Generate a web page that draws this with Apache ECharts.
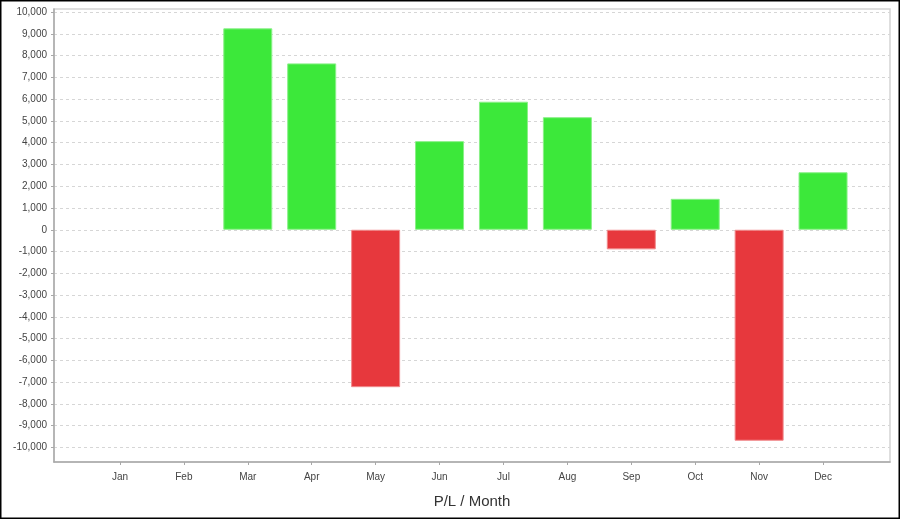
<!DOCTYPE html>
<html>
<head>
<meta charset="utf-8">
<script src="https://cdn.jsdelivr.net/npm/echarts@6/dist/echarts.min.js"></script>
<style>
html,body{margin:0;padding:0;background:#fff;}
#c{width:900px;height:519px;}
</style>
</head>
<body>
<div id="c"></div>
<script>
var months = ['Jan','Feb','Mar','Apr','May','Jun','Jul','Aug','Sep','Oct','Nov','Dec'];
var profitLoss = [null, null, 9250, 7640, -7230, 4070, 5880, 5170, -900, 1420, -9690, 2640];
var yMin = -10000, yMax = 10000, yStep = 1000;
var axisTitle = 'P/L / Month';

var GREEN = '#3ce83a', GREEN_EDGE = '#8af088';
var RED = '#e7383d', RED_EDGE = '#f08a8c';
var font = 'Arial, "Liberation Sans", sans-serif';

var chart = echarts.init(document.getElementById('c'), null, {renderer:'canvas'});
chart.setOption({
  backgroundColor:'#fff',
  animation:false,
  graphic:[{type:'rect', shape:{x:0.75,y:0.75,width:898.5,height:517.5}, style:{fill:'none', stroke:'#000', lineWidth:1.5}, z:100}],
  grid:[
    {left:54, right:10, top:9, bottom:57, show:true, borderColor:'#d4d4d4', borderWidth:1.5, backgroundColor:'transparent'},
    {left:54, right:10, top:12, bottom:71.5},
    {left:88, right:45, top:12, bottom:71.5}
  ],
  xAxis:[
    {gridIndex:0, type:'value', min:0, max:1, axisLine:{show:true, onZero:false, lineStyle:{color:'#a8a8a8', width:1.5}}, axisTick:{show:false}, axisLabel:{show:false}, splitLine:{show:false},
     name:axisTitle, nameLocation:'middle', nameGap:32, nameTextStyle:{fontFamily:font, fontSize:15, color:'#333'}},
    {gridIndex:1, type:'value', min:0, max:1, show:false},
    {gridIndex:2, type:'category', data:months, offset:14.5, position:'bottom',
     axisLine:{show:false, onZero:false}, axisTick:{show:true, alignWithLabel:true, length:3, lineStyle:{color:'#a8a8a8'}},
     axisLabel:{fontFamily:font, fontSize:10, color:'#444', margin:10}, splitLine:{show:false}}
  ],
  yAxis:[
    {gridIndex:0, type:'value', min:0, max:1, axisLine:{show:true, onZero:false, lineStyle:{color:'#a8a8a8', width:1.5}}, axisTick:{show:false}, axisLabel:{show:false}, splitLine:{show:false}},
    {gridIndex:1, type:'value', min:yMin, max:yMax, interval:yStep,
     axisLine:{show:false, onZero:false}, axisTick:{show:true, length:3, inside:false, lineStyle:{color:'#a8a8a8'}},
     axisLabel:{fontFamily:font, fontSize:10, color:'#444', margin:7,
       formatter:function(v){return v.toLocaleString('en-US');}},
     splitLine:{show:true, lineStyle:{color:'#d6d6d6', type:[3,3], width:1}}},
    {gridIndex:2, type:'value', min:yMin, max:yMax, show:false}
  ],
  series:[{
    type:'bar', xAxisIndex:2, yAxisIndex:2,
    barWidth:49,
    data:profitLoss.map(function(v){
      if (v === null) return null;
      return {value:v, itemStyle:{color: v >= 0 ? GREEN : RED, borderColor: v >= 0 ? GREEN_EDGE : RED_EDGE, borderWidth:1}};
    })
  }]
});
</script>
</body>
</html>
